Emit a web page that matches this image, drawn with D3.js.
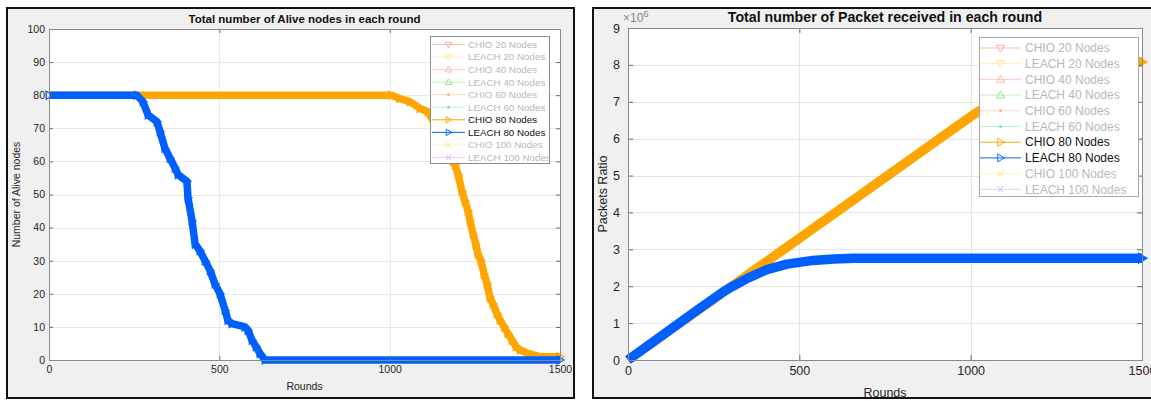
<!DOCTYPE html>
<html>
<head>
<meta charset="utf-8">
<script src="https://cdn.jsdelivr.net/npm/d3@7"></script>
<style>
  body { margin: 0; background: #fff; }
  svg { display: block; font-family: Arial, "Liberation Sans", Helvetica, sans-serif; }
</style>
</head>
<body>
<svg id="fig" width="1151" height="401"></svg>
<script>
// ---- data ----
const roundTicks  = [0, 500, 1000, 1500];
const aliveTicks  = [0, 10, 20, 30, 40, 50, 60, 70, 80, 90, 100];
const packetTicks = [0, 1, 2, 3, 4, 5, 6, 7, 8, 9];          // in units of 10^6

const seriesNames = [
  "CHIO 20 Nodes", "LEACH 20 Nodes", "CHIO 40 Nodes", "LEACH 40 Nodes",
  "CHIO 60 Nodes", "LEACH 60 Nodes", "CHIO 80 Nodes", "LEACH 80 Nodes",
  "CHIO 100 Nodes", "LEACH 100 Nodes"
];

// alive nodes per round: [round, nodes]
const chio80Alive = [
  [0, 80], [1005, 80], [1030, 79], [1060, 78], [1089, 76], [1113, 75],
  [1150, 68], [1186, 60], [1192, 59], [1201, 56], [1212, 51], [1221, 48],
  [1230, 45], [1236, 42], [1245, 38], [1253, 35], [1259, 32], [1268, 30],
  [1277, 26], [1286, 23], [1294, 19], [1303, 17], [1315, 14], [1324, 12],
  [1336, 10], [1347, 8], [1359, 6], [1371, 4], [1383, 3], [1406, 2],
  [1441, 1], [1500, 1]
];
const leach80Alive = [
  [0, 80], [258, 80], [276, 78], [291, 74], [317, 72], [326, 69],
  [340, 64], [355, 61], [370, 58], [379, 56], [405, 54], [408, 49],
  [420, 42], [429, 35], [443, 33], [458, 30], [473, 27], [487, 23],
  [502, 20], [517, 15], [525, 12], [537, 11], [575, 10], [584, 9],
  [596, 6], [608, 4], [619, 2], [634, 0], [1500, 0]
];

// cumulative packets received: [round, packets]
const chio80Packets = [
  [0, 0], [100, 0.66e6], [300, 1.98e6], [500, 3.3e6], [700, 4.62e6],
  [900, 5.94e6], [1000, 6.6e6], [1100, 7.2e6], [1200, 7.7e6],
  [1300, 7.98e6], [1400, 8.07e6], [1500, 8.08e6]
];
const leach80Packets = [
  [0, 0], [100, 0.67e6], [200, 1.34e6], [280, 1.86e6], [306, 2.0e6],
  [350, 2.22e6], [405, 2.45e6], [464, 2.6e6], [540, 2.7e6],
  [600, 2.74e6], [660, 2.76e6], [1500, 2.76e6]
];

// ---- styles ----
const legendStyle = [
  { line: "#ffb8b8", mark: "#ff9c9c", text: "#b8b8b8", shape: "v" },
  { line: "#fff0b8", mark: "#ffe080", text: "#b8b8b8", shape: "v" },
  { line: "#ffccbc", mark: "#ffae9a", text: "#b8b8b8", shape: "^" },
  { line: "#bff0b8", mark: "#8ee07e", text: "#b8b8b8", shape: "^" },
  { line: "#ffd6c0", mark: "#ffb080", text: "#b8b8b8", shape: "." },
  { line: "#b8f2e2", mark: "#70e0c0", text: "#b8b8b8", shape: "." },
  { line: "#ffa500", mark: "#ffa500", text: "#111111", shape: ">" },
  { line: "#0060ff", mark: "#0060ff", text: "#111111", shape: ">" },
  { line: "#fff0c0", mark: "#ffe070", text: "#b8b8b8", shape: "x" },
  { line: "#e2d0ff", mark: "#c8a8ff", text: "#b8b8b8", shape: "x" }
];
const ORANGE = "#ffa500", BLUE = "#0060ff";

function markerPath(shape, s) {
  switch (shape) {
    case "v": return `M${-s},${-s * 0.7}L${s},${-s * 0.7}L0,${s}Z`;
    case "^": return `M${-s},${s * 0.7}L${s},${s * 0.7}L0,${-s}Z`;
    case ">": return `M${-s * 0.7},${-s}L${-s * 0.7},${s}L${s},0Z`;
    case "x": return `M${-s * 0.8},${-s * 0.8}L${s * 0.8},${s * 0.8}M${-s * 0.8},${s * 0.8}L${s * 0.8},${-s * 0.8}`;
    default:  return `M-1.2,0a1.2,1.2 0 1,0 2.4,0a1.2,1.2 0 1,0 -2.4,0Z`;
  }
}

const svg = d3.select("#fig");
const defs = svg.append("defs");

function drawPanel(o) {
  const clipId = o.id + "-clip";
  defs.append("clipPath").attr("id", clipId)
    .append("rect").attr("x", o.frame[0]).attr("y", o.frame[1])
    .attr("width", o.frame[2]).attr("height", o.frame[3]);

  const g = svg.append("g").attr("clip-path", `url(#${clipId})`);
  g.append("rect").attr("x", o.frame[0]).attr("y", o.frame[1])
    .attr("width", o.frame[2]).attr("height", o.frame[3]).attr("fill", "#f0f0f0");

  const x = d3.scaleLinear().domain([0, 1500]).range([o.ax0, o.ax1]);
  const y = d3.scaleLinear().domain([0, o.yMax]).range([o.ay1, o.ay0]);

  g.append("rect").attr("x", o.ax0).attr("y", o.ay0)
    .attr("width", o.ax1 - o.ax0).attr("height", o.ay1 - o.ay0).attr("fill", "#fff");

  // grid
  const grid = g.append("g").attr("stroke", o.gridColor).attr("stroke-width", 1);
  grid.selectAll("line.gy").data(o.yTicks.slice(1, -1)).join("line")
    .attr("x1", o.ax0).attr("x2", o.ax1)
    .attr("y1", d => Math.round(y(d)) + 0.5).attr("y2", d => Math.round(y(d)) + 0.5);
  grid.selectAll("line.gx").data(roundTicks.slice(1, -1)).join("line")
    .attr("y1", o.ay0).attr("y2", o.ay1)
    .attr("x1", d => Math.round(x(d)) + 0.5).attr("x2", d => Math.round(x(d)) + 0.5);

  // series
  const line = d3.line().x(d => x(d[0])).y(d => y(d[1]));
  o.series.forEach(s => {
    g.append("path").datum(s.data).attr("d", line)
      .attr("fill", "none").attr("stroke", s.color)
      .attr("stroke-width", o.bandWidth).attr("stroke-linejoin", "round");
    const pts = o.markAll ? s.data : [s.data[s.data.length - 1]];
    g.append("g").selectAll("path").data(pts).join("path")
      .attr("transform", d => `translate(${x(d[0])},${y(d[1])})`)
      .attr("d", markerPath(">", o.markSize))
      .attr("fill", o.markFill ? s.color : "none")
      .attr("stroke", s.color).attr("stroke-width", 1.2);
  });

  // axes box + inward ticks
  const tickColor = "#6a6a6a";
  const styleAxis = (sel, labels) => {
    sel.select(".domain").remove();
    sel.selectAll(".tick line").attr("stroke", tickColor);
    sel.selectAll(".tick text").attr("fill", "#262626")
      .style("font-size", o.tickFont + "px").style("font-family", "inherit");
    if (!labels) sel.selectAll(".tick text").remove();
  };
  g.append("g").attr("transform", `translate(${o.ax0},0)`)
    .call(d3.axisLeft(y).tickValues(o.yTicks).tickFormat(o.yFormat)
      .tickSizeInner(-o.tickLen).tickSizeOuter(0).tickPadding(o.yPad))
    .call(sel => styleAxis(sel, true));
  g.append("g").attr("transform", `translate(${o.ax1},0)`)
    .call(d3.axisRight(y).tickValues(o.yTicks).tickSizeInner(-o.tickLen).tickSizeOuter(0))
    .call(sel => styleAxis(sel, false));
  g.append("g").attr("transform", `translate(0,${o.ay1})`)
    .call(d3.axisBottom(x).tickValues(roundTicks).tickFormat(d => d)
      .tickSizeInner(-o.tickLen).tickSizeOuter(0).tickPadding(o.xPad))
    .call(sel => styleAxis(sel, true));
  g.append("g").attr("transform", `translate(0,${o.ay0})`)
    .call(d3.axisTop(x).tickValues(roundTicks).tickSizeInner(-o.tickLen).tickSizeOuter(0))
    .call(sel => styleAxis(sel, false));
  g.append("rect").attr("x", o.ax0 + 0.5).attr("y", o.ay0 + 0.5)
    .attr("width", o.ax1 - o.ax0).attr("height", o.ay1 - o.ay0)
    .attr("fill", "none").attr("stroke", "#8a8a8a");

  // titles and labels
  const cx = (o.ax0 + o.ax1) / 2;
  g.append("text").attr("x", cx).attr("y", o.titleY).attr("text-anchor", "middle")
    .attr("font-weight", "bold").attr("font-size", o.titleFont).attr("fill", "#111")
    .text(o.title);
  g.append("text").attr("x", cx).attr("y", o.xLabelY).attr("text-anchor", "middle")
    .attr("font-size", o.labelFont).attr("fill", "#262626").text("Rounds");
  g.append("text")
    .attr("transform", `translate(${o.yLabelX},${(o.ay0 + o.ay1) / 2}) rotate(-90)`)
    .attr("text-anchor", "middle").attr("font-size", o.labelFont).attr("fill", "#262626")
    .text(o.yLabel);
  if (o.exponent) {
    const t = g.append("text").attr("x", o.ax0 - 5).attr("y", o.ay0 - 6)
      .attr("font-size", 12).attr("fill", "#858585");
    t.append("tspan").text("×10");
    t.append("tspan").attr("dy", -5).attr("font-size", 9.5).text(o.exponent);
  }

  // legend
  const L = o.legend;
  const lg = g.append("g");
  lg.append("rect").attr("x", L.x + 0.5).attr("y", L.y + 0.5).attr("width", L.w).attr("height", L.h)
    .attr("fill", "#fff").attr("stroke", L.border);
  seriesNames.forEach((name, i) => {
    const st = legendStyle[i];
    const ry = L.row0 + i * L.step;
    lg.append("line").attr("x1", L.lineX0).attr("x2", L.lineX1)
      .attr("y1", ry).attr("y2", ry).attr("stroke", st.line).attr("stroke-width", 1);
    const mx = (L.lineX0 + L.lineX1) / 2;
    const filled = st.shape === ".";
    lg.append("path").attr("transform", `translate(${mx},${ry})`)
      .attr("d", markerPath(st.shape, L.mark))
      .attr("fill", filled ? st.mark : "none")
      .attr("stroke", st.mark).attr("stroke-width", filled ? 0.6 : 0.9);
    lg.append("text").attr("x", L.textX).attr("y", ry).attr("dy", "0.35em")
      .attr("font-size", L.font).attr("fill", st.text).text(name);
  });

  // frame border
  svg.append("rect").attr("x", o.frame[0]).attr("y", o.frame[1])
    .attr("width", o.frame[2]).attr("height", o.frame[3])
    .attr("fill", "none").attr("stroke", "#111").attr("stroke-width", 2);
}

drawPanel({
  id: "alive",
  frame: [7, 8, 567, 390],
  ax0: 49, ax1: 560, ay0: 29, ay1: 360,
  yMax: 100, yTicks: aliveTicks, yFormat: d => d,
  gridColor: "#e9e9e9",
  bandWidth: 7.5, markSize: 4, markAll: true, markFill: false,
  tickLen: 4, tickFont: 10.5, yPad: 4, xPad: 6,
  title: "Total number of Alive nodes in each round", titleY: 23, titleFont: 11.5,
  xLabelY: 390, yLabelX: 20, labelFont: 10.5,
  yLabel: "Number of Alive nodes",
  series: [{ data: chio80Alive, color: ORANGE }, { data: leach80Alive, color: BLUE }],
  legend: { x: 430, y: 36, w: 119, h: 127, border: "#8c8c8c",
            row0: 44.5, step: 12.55, lineX0: 432, lineX1: 465, textX: 468, font: 9.8, mark: 3.3 }
});

drawPanel({
  id: "packets",
  frame: [593, 8, 600, 390],
  ax0: 628, ax1: 1142, ay0: 28, ay1: 360,
  yMax: 9e6, yTicks: packetTicks.map(v => v * 1e6), yFormat: d => d / 1e6,
  gridColor: "#e4e4e4",
  bandWidth: 9.5, markSize: 5, markAll: false, markFill: true,
  tickLen: 5, tickFont: 12.5, yPad: 8, xPad: 6,
  title: "Total number of Packet received in each round", titleY: 22, titleFont: 14.2,
  xLabelY: 397, yLabelX: 607, labelFont: 12.5,
  yLabel: "Packets Ratio",
  exponent: "6",
  series: [{ data: chio80Packets, color: ORANGE }, { data: leach80Packets, color: BLUE }],
  legend: { x: 979, y: 37, w: 159, h: 159, border: "#a8a8a8",
            row0: 48, step: 15.7, lineX0: 980, lineX1: 1021, textX: 1025, font: 12, mark: 4 }
});
</script>
</body>
</html>
